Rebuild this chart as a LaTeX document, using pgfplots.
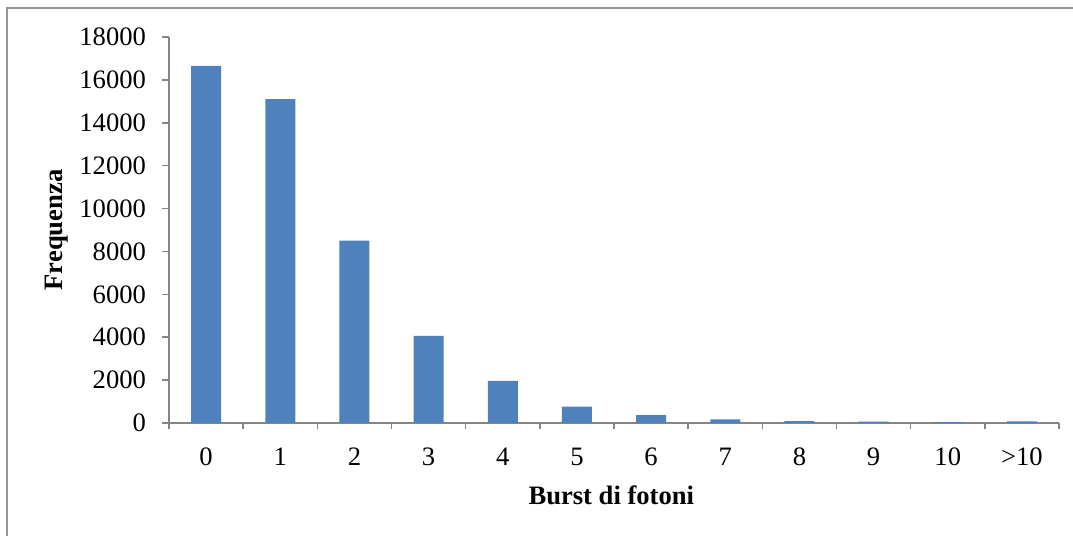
\documentclass[border=0pt]{standalone}
\usepackage{pgfplots}
\pgfplotsset{compat=1.18}
\usepackage{fontspec}
\setmainfont{Liberation Serif}
\definecolor{barblue}{RGB}{79,129,189}
\definecolor{axgray}{RGB}{134,134,134}
\definecolor{framegray}{RGB}{150,150,150}
\begin{document}
\begin{tikzpicture}
% 1 px of the reference = 0.5pt
\useasboundingbox (0,0) rectangle (536.5pt,-268pt);
\draw[framegray, line width=0.6pt] (3.5pt,-268pt) -- (3.5pt,-4pt) -- (536.5pt,-4pt);
\begin{axis}[
    at={(84.5pt,-211.5pt)}, anchor=south west,
    scale only axis,
    width=445pt, height=193pt,
    xmin=-0.5, xmax=11.5,
    ymin=0, ymax=18000,
    ytick={0,2000,...,18000},
    xtick={0,...,11},
    xticklabels={0,1,2,3,4,5,6,7,8,9,10,>10},
    minor xtick={-0.5,0.5,...,11.5},
    axis x line*=bottom,
    axis y line*=left,
    axis line style={axgray, line width=0.8pt, -},
    tick style={axgray, line width=0.8pt},
    tick align=outside,
    major tick length=3.5pt,
    minor tick length=3pt,
    major x tick style={draw=none},
    scaled y ticks=false,
    /pgf/number format/.cd, 1000 sep={}, assume math mode=true,
    /pgfplots/.cd,
    tick label style={font=\fontsize{13.3}{16}\selectfont},
    yticklabel style={xshift=-4.5pt},
    xticklabel style={yshift=-5.5pt},
    xlabel={\textbf{Burst di fotoni}},
    ylabel={\textbf{Frequenza}},
    label style={font=\fontsize{13.3}{16}\selectfont},
    xlabel style={at={(axis description cs:0.497,-0.187)}, anchor=center},
    ylabel style={at={(axis description cs:-0.126,0.5)}, anchor=center},
    ybar, bar width=15pt,
]
\addplot[fill=barblue, draw=none] coordinates {
    (0,16650) (1,15100) (2,8500) (3,4060) (4,1960) (5,760)
    (6,370) (7,170) (8,90) (9,70) (10,40) (11,80)
};
\end{axis}
\end{tikzpicture}
\end{document}
